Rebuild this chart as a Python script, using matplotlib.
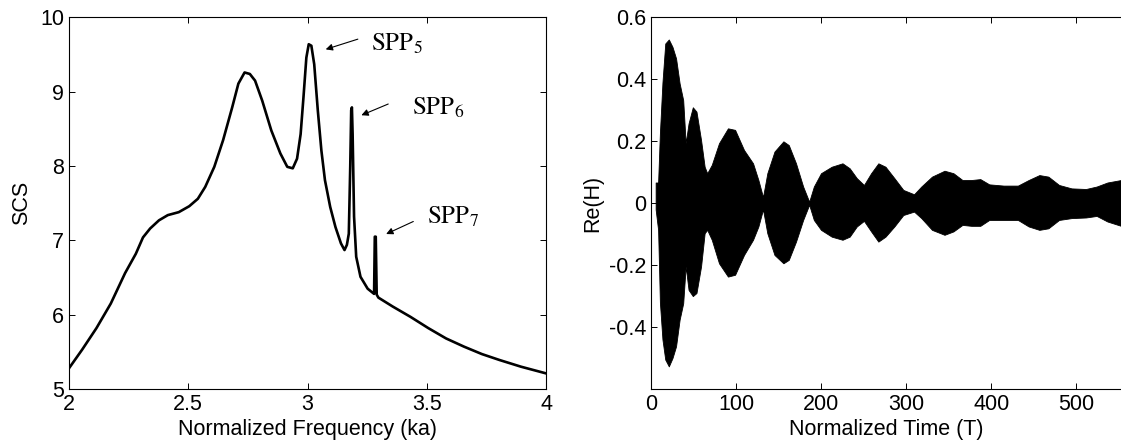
import numpy as np
import matplotlib
matplotlib.use("Agg")
import matplotlib.pyplot as plt

# left panel: scattering cross section vs normalized frequency
freq = [2.0, 2.055, 2.115, 2.175, 2.235, 2.28, 2.31, 2.34, 2.377, 2.414, 2.46, 2.504,
        2.54, 2.571, 2.609, 2.646, 2.684, 2.71, 2.736, 2.758, 2.78, 2.81, 2.848, 2.886,
        2.915, 2.938, 2.956, 2.971, 2.983, 2.995, 3.005, 3.016, 3.028, 3.043, 3.058,
        3.073, 3.095, 3.117, 3.14, 3.155, 3.165, 3.173, 3.179, 3.183, 3.186, 3.189,
        3.195, 3.204, 3.222, 3.252, 3.279, 3.282, 3.286, 3.29, 3.297, 3.357, 3.432,
        3.506, 3.581, 3.656, 3.731, 3.805, 3.895, 4.0]
scs = [5.28, 5.53, 5.82, 6.15, 6.56, 6.82, 7.04, 7.16, 7.27, 7.34, 7.38, 7.46,
       7.56, 7.72, 7.99, 8.35, 8.79, 9.11, 9.26, 9.24, 9.15, 8.88, 8.48, 8.17,
       7.99, 7.97, 8.10, 8.43, 8.93, 9.46, 9.64, 9.62, 9.37, 8.75, 8.21,
       7.81, 7.45, 7.18, 6.96, 6.87, 6.94, 7.09, 7.99, 8.75, 8.79, 8.43,
       7.32, 6.78, 6.51, 6.35, 6.28, 7.05, 7.05, 6.27, 6.23, 6.11, 5.97,
       5.82, 5.68, 5.57, 5.47, 5.39, 5.30, 5.21]

# right panel: envelope of Re(H) vs normalized time (carrier too dense to resolve)
time = [5.5, 8.4, 10.5, 13.5, 16.8, 21.0, 25.3, 29.5, 33.7, 37.9, 40.8, 44.2, 49.2,
        53.5, 58.9, 63.1, 66.1, 71.5, 80.0, 90.5, 98.9, 109.4, 120.0, 126.3, 131.7,
        136.8, 145.2, 155.7, 162.0, 170.5, 178.9, 186.0, 191.5, 199.9, 212.5, 225.2,
        233.6, 242.0, 250.4, 258.8, 267.3, 275.7, 286.2, 296.7, 309.3, 317.8, 330.4,
        345.1, 355.6, 366.2, 376.7, 387.2, 397.7, 414.6, 431.4, 444.0, 456.6, 467.2,
        479.8, 494.5, 511.4, 524.0, 536.6, 552.6]
upper = [0.067, 0.067, 0.226, 0.39, 0.516, 0.529, 0.505, 0.468, 0.387, 0.333, 0.194,
         0.258, 0.31, 0.296, 0.204, 0.118, 0.097, 0.124, 0.194, 0.242, 0.237, 0.172,
         0.129, 0.075, 0.02, 0.097, 0.167, 0.2, 0.188, 0.129, 0.054, 0.005, 0.054,
         0.097, 0.118, 0.129, 0.113, 0.081, 0.059, 0.097, 0.129, 0.118, 0.081, 0.043,
         0.029, 0.054, 0.086, 0.105, 0.097, 0.075, 0.075, 0.078, 0.061, 0.057, 0.057,
         0.075, 0.091, 0.086, 0.059, 0.048, 0.046, 0.054, 0.067, 0.075]
lower = [-0.02, -0.086, -0.32, -0.44, -0.505, -0.527, -0.5, -0.462, -0.376, -0.323,
         -0.204, -0.28, -0.30, -0.29, -0.204, -0.097, -0.086, -0.118, -0.194, -0.237,
         -0.231, -0.167, -0.118, -0.075, -0.02, -0.097, -0.167, -0.194, -0.183, -0.124,
         -0.054, -0.005, -0.054, -0.086, -0.108, -0.118, -0.108, -0.075, -0.057, -0.091,
         -0.124, -0.108, -0.075, -0.038, -0.027, -0.048, -0.086, -0.102, -0.091, -0.07,
         -0.073, -0.073, -0.054, -0.054, -0.054, -0.075, -0.086, -0.081, -0.054, -0.048,
         -0.046, -0.041, -0.059, -0.073]

spp_labels = ['$\\mathrm{SPP}_5$', '$\\mathrm{SPP}_6$', '$\\mathrm{SPP}_7$']
spp_text_xy = [(3.267, 9.64), (3.44, 8.79), (3.50, 7.32)]
spp_arrow_tail = [(3.222, 9.72), (3.349, 8.85), (3.454, 7.27)]
spp_arrow_head = [(3.065, 9.56), (3.215, 8.67), (3.319, 7.07)]

plt.rcParams['font.family'] = 'Liberation Sans'
plt.rcParams['mathtext.fontset'] = 'stix'
FS = 15.5

fig = plt.figure(figsize=(11.21, 4.44), dpi=100)

def style_axes(ax, right=True):
    ax.tick_params(direction='in', length=4, width=0.7, labelsize=FS, top=True, right=right)
    for s in ax.spines.values():
        s.set_linewidth(0.8)

ax1 = fig.add_axes([0.0616, 0.1239, 0.4255, 0.8367])
ax1.plot(freq, scs, color='k', lw=1.9, solid_joinstyle='round')
ax1.set_xlim(2, 4)
ax1.set_ylim(5, 10)
ax1.set_xticks([2, 2.5, 3, 3.5, 4])
ax1.set_xticklabels(['2', '2.5', '3', '3.5', '4'])
ax1.set_yticks([5, 6, 7, 8, 9, 10])
style_axes(ax1)
ax1.set_xlabel('Normalized Frequency (ka)', fontsize=FS, labelpad=3)
ax1.set_ylabel('SCS', fontsize=FS, labelpad=6)
for lab, txy, tail, head in zip(spp_labels, spp_text_xy, spp_arrow_tail, spp_arrow_head):
    ax1.text(txy[0], txy[1], lab, fontsize=18, ha='left', va='center')
    ax1.annotate('', xy=head, xytext=tail,
                 arrowprops=dict(arrowstyle='-|>', color='k', lw=0.8, mutation_scale=10))

ax2 = fig.add_axes([0.5807, 0.1239, 0.4193, 0.8367])
ax2.fill_between(time, lower, upper, color='k', lw=0.6, joinstyle='round')
ax2.set_xlim(0, 552.6)
ax2.set_ylim(-0.6, 0.6)
ax2.set_xticks([0, 100, 200, 300, 400, 500])
ax2.set_yticks([-0.4, -0.2, 0, 0.2, 0.4, 0.6])
ax2.set_yticklabels(['-0.4', '-0.2', '0', '0.2', '0.4', '0.6'])
style_axes(ax2, right=False)
ax2.spines['right'].set_visible(False)
ax2.set_xlabel('Normalized Time (T)', fontsize=FS, labelpad=3)
ax2.set_ylabel('Re(H)', fontsize=FS, labelpad=4)

fig.savefig('out.png', dpi=100)
